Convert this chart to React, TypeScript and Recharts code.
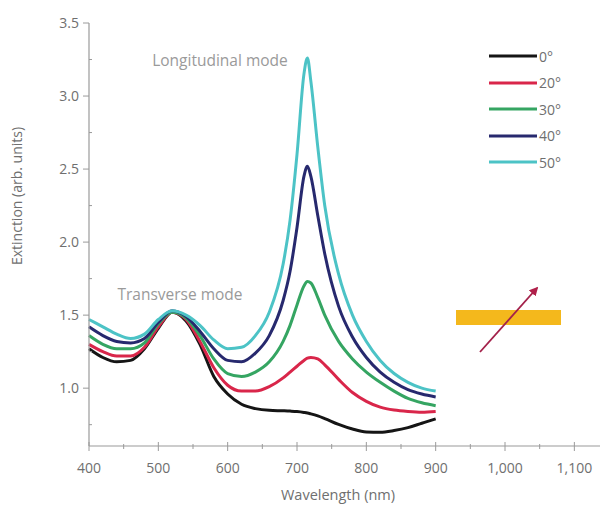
import React from "react";
import {
  LineChart,
  Line,
  XAxis,
  YAxis,
  Legend,
  Customized,
} from "recharts";

// wavelength grid (nm)
const wavelengths = [
  400, 420, 440, 460, 480, 500, 520, 540, 560, 580, 600, 620, 640, 660, 680,
  690, 700, 710, 715, 720, 730, 740, 760, 780, 800, 820, 840, 860, 880, 900,
];

// extinction spectra for each polarization angle
const ext0 = [
  1.27, 1.21, 1.18, 1.19, 1.27, 1.41, 1.52, 1.46, 1.3, 1.08, 0.96, 0.89, 0.86,
  0.848, 0.845, 0.843, 0.84, 0.834, 0.83, 0.824, 0.81, 0.792, 0.752, 0.72, 0.7,
  0.698, 0.71, 0.73, 0.76, 0.79,
];
const ext20 = [
  1.3, 1.25, 1.22, 1.22, 1.28, 1.42, 1.52, 1.47, 1.32, 1.14, 1.02, 0.98, 0.98,
  1.01, 1.07, 1.11, 1.15, 1.19, 1.205, 1.21, 1.2, 1.16, 1.06, 0.97, 0.91, 0.87,
  0.85, 0.84, 0.835, 0.84,
];
const ext30 = [
  1.36, 1.3, 1.27, 1.27, 1.31, 1.44, 1.52, 1.48, 1.36, 1.2, 1.1, 1.08, 1.11,
  1.18, 1.32, 1.43, 1.57, 1.7, 1.73, 1.72, 1.62, 1.5, 1.32, 1.2, 1.11, 1.04,
  0.98, 0.93, 0.9, 0.88,
];
const ext40 = [
  1.42, 1.36, 1.32, 1.31, 1.34, 1.45, 1.53, 1.49, 1.39, 1.27, 1.19, 1.18, 1.24,
  1.36, 1.6, 1.8, 2.1, 2.45, 2.52, 2.45, 2.18, 1.92, 1.56, 1.35, 1.21, 1.11,
  1.04, 0.99, 0.96, 0.94,
];
const ext50 = [
  1.47, 1.42, 1.37, 1.34, 1.37, 1.47, 1.53, 1.5, 1.43, 1.33, 1.27, 1.28, 1.36,
  1.52, 1.85, 2.15, 2.6, 3.15, 3.26, 3.1, 2.65, 2.25, 1.78, 1.5, 1.32, 1.19,
  1.1, 1.04, 1.0, 0.98,
];

const angles = ["0°", "20°", "30°", "40°", "50°"];
const colors = ["#151515", "#d9264a", "#35a562", "#27296e", "#4cc3c6"];
const spectra = [ext0, ext20, ext30, ext40, ext50];

const xTicks = [
  400, 450, 500, 550, 600, 650, 700, 750, 800, 850, 900, 950, 1000, 1050, 1100,
];
const yTicks = [0.75, 1, 1.25, 1.5, 1.75, 2, 2.25, 2.5, 2.75, 3, 3.25, 3.5];

const data = wavelengths.map((wl, i) => {
  const row: Record<string, number> = { wl };
  spectra.forEach((s, k) => {
    row["s" + k] = s[i];
  });
  return row;
});

const FONT = "'Open Sans', sans-serif";
const AXIS = "#9a9a9a";
const TEXT = "#6f6f6f";

const XTick = (props: any) => {
  const { x, y, payload } = props;
  const major = payload.value % 100 === 0;
  return (
    <g>
      <line
        x1={x}
        x2={x}
        y1={y - (major ? 4 : 2)}
        y2={y + (major ? 5 : 3)}
        stroke={AXIS}
      />
      {major && (
        <text
          x={x}
          y={y + 27}
          textAnchor="middle"
          fill={TEXT}
          fontSize={14}
          fontFamily={FONT}
        >
          {payload.value.toLocaleString("en-US")}
        </text>
      )}
    </g>
  );
};

const YTick = (props: any) => {
  const { x, y, payload } = props;
  const major = Math.abs(payload.value * 2 - Math.round(payload.value * 2)) < 1e-6;
  return (
    <g>
      <line
        x1={x - (major ? 6 : 0)}
        x2={x + (major ? 0 : 3)}
        y1={y}
        y2={y}
        stroke={AXIS}
      />
      {major && (
        <text
          x={x - 10}
          y={y + 5}
          textAnchor="end"
          fill={TEXT}
          fontSize={14}
          fontFamily={FONT}
        >
          {payload.value.toFixed(1)}
        </text>
      )}
    </g>
  );
};

const renderLegend = () => (
  <div style={{ fontFamily: FONT, fontSize: 14, color: TEXT }}>
    {angles.map((a, i) => (
      <div
        key={a}
        style={{ display: "flex", alignItems: "center", height: 26.5 }}
      >
        <svg width={50} height={6}>
          <line x1={1} x2={49} y1={3} y2={3} stroke={colors[i]} strokeWidth={3} />
        </svg>
        <span style={{ marginLeft: 1 }}>{a}</span>
      </div>
    ))}
  </div>
);

// axis titles, mode labels and the rod/polarization sketch
const Annotations = () => (
  <g fontFamily={FONT}>
    <text
      x={22}
      y={196}
      transform="rotate(-90 22 196)"
      textAnchor="middle"
      fill={TEXT}
      fontSize={14}
    >
      Extinction (arb. units)
    </text>
    <text x={338} y={500} textAnchor="middle" fill={TEXT} fontSize={14.5}>
      Wavelength (nm)
    </text>
    <text x={220} y={66} textAnchor="middle" fill="#9a9a9a" fontSize={15.5}>
      Longitudinal mode
    </text>
    <text x={180} y={300} textAnchor="middle" fill="#9a9a9a" fontSize={15.5}>
      Transverse mode
    </text>
    <defs>
      <marker
        id="head"
        viewBox="0 0 10 10"
        refX={8}
        refY={5}
        markerWidth={5}
        markerHeight={5}
        orient="auto"
      >
        <path d="M0,0 L10,5 L0,10 z" fill="#b0204a" />
      </marker>
    </defs>
    <rect x={456} y={310} width={105} height={15} fill="#f4b81c" />
    <line
      x1={480}
      y1={352}
      x2={537}
      y2={288}
      stroke="#a3214a"
      strokeWidth={1.8}
      markerEnd="url(#head)"
    />
  </g>
);

export default function App() {
  return (
    <div style={{ position: "absolute", left: 0, top: 0, background: "#fff" }}>
      <LineChart
        width={600}
        height={506}
        data={data}
        margin={{ top: 23, right: 0, bottom: 0, left: 0 }}
      >
        <XAxis
          dataKey="wl"
          type="number"
          domain={[400, 1137]}
          ticks={xTicks}
          interval={0}
          height={60}
          tickSize={0}
          tickMargin={0}
          tick={<XTick />}
          axisLine={{ stroke: AXIS, strokeWidth: 1.2 }}
        />
        <YAxis
          type="number"
          domain={[0.604, 3.5]}
          ticks={yTicks}
          interval={0}
          width={89}
          tickSize={0}
          tickMargin={0}
          tick={<YTick />}
          axisLine={{ stroke: AXIS, strokeWidth: 1.2 }}
          allowDataOverflow
        />
        {spectra.map((_, k) => (
          <Line
            key={k}
            dataKey={"s" + k}
            name={angles[k]}
            type="monotone"
            stroke={colors[k]}
            strokeWidth={3}
            dot={false}
            isAnimationActive={false}
          />
        ))}
        <Legend
          layout="vertical"
          align="center"
          verticalAlign="middle"
          content={renderLegend}
          wrapperStyle={{ position: "absolute", left: 488, top: 43, width: 100 }}
        />
        <Customized component={Annotations} />
      </LineChart>
    </div>
  );
}
